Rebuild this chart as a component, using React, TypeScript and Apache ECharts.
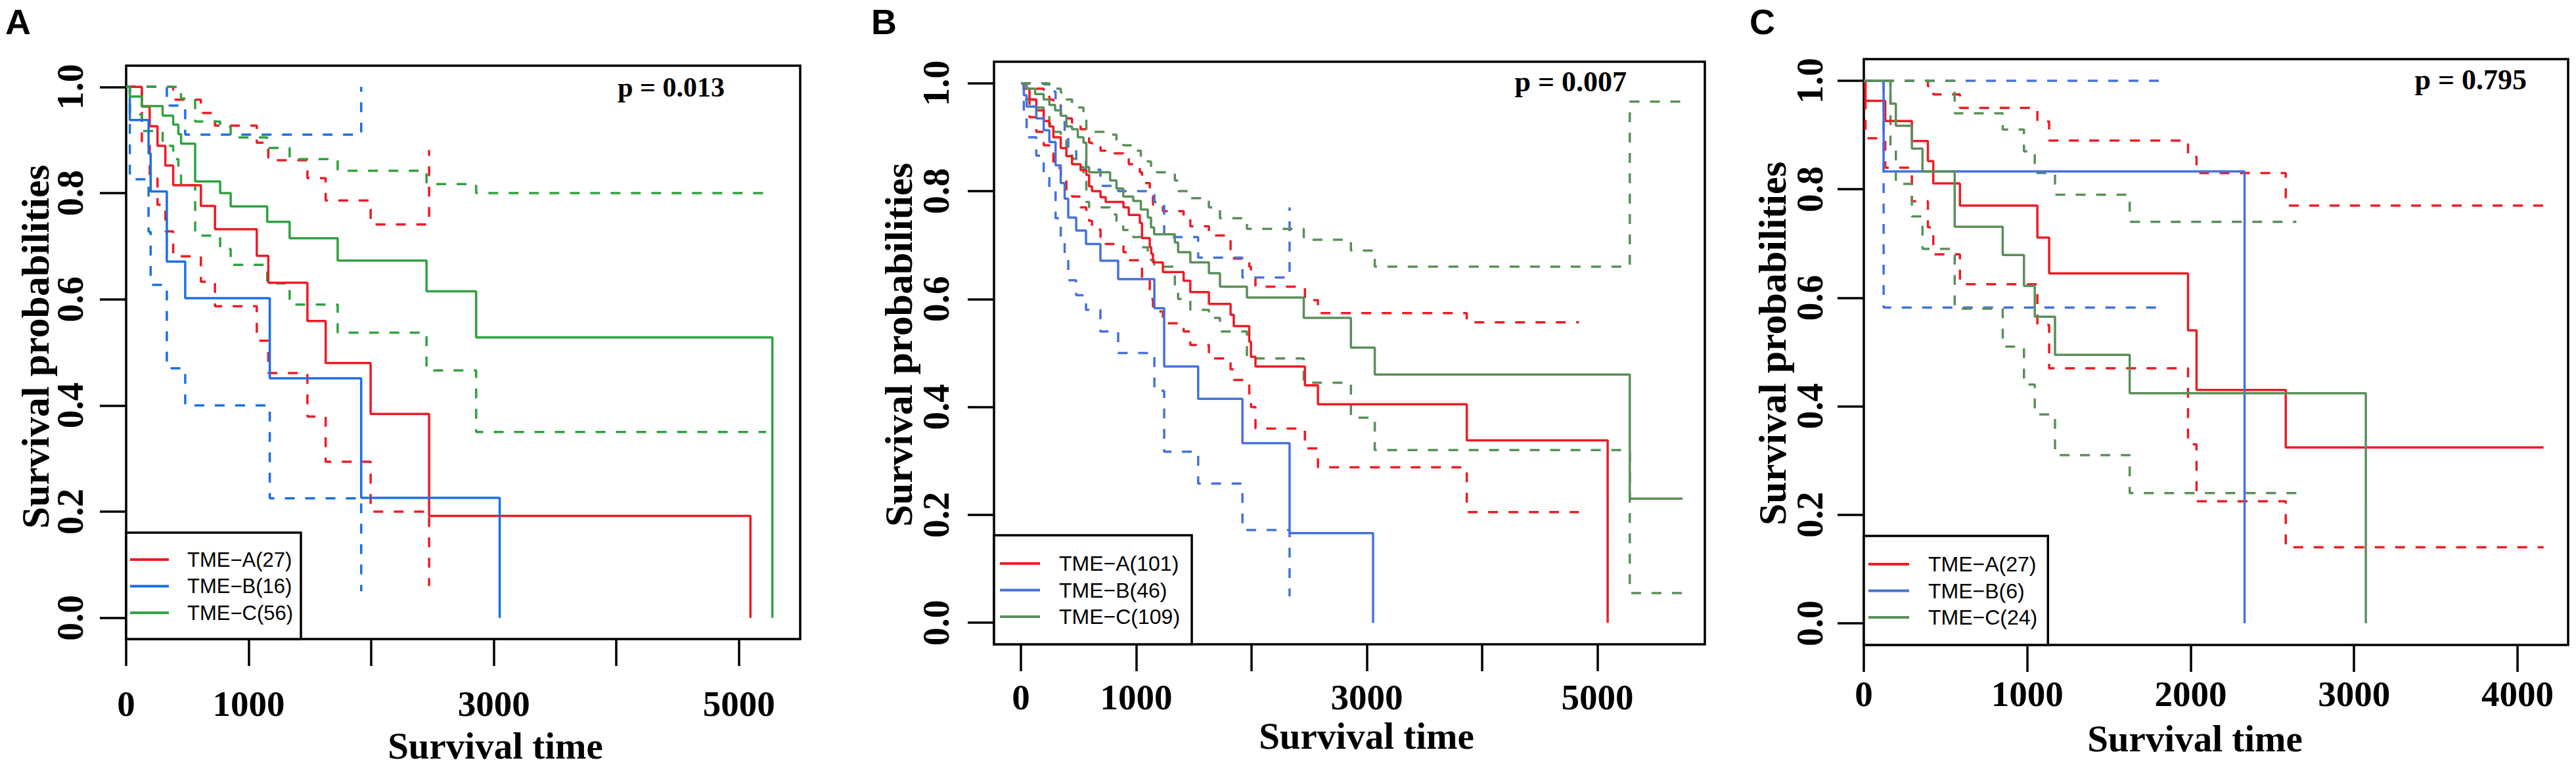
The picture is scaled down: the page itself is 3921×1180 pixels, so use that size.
import React, { useEffect, useRef } from "react";
import * as echarts from "echarts";

// ================= DATA =================
// Panel A
const A_names = ["TME\u2212A(27)", "TME\u2212B(16)", "TME\u2212C(56)"];
const A_p = "p = 0.013";
const aA_t = [0, 128, 192, 256, 320, 384, 610, 725, 1066, 1160, 1479, 1628, 1995, 2472, 5094];
const aA_s = [1, 0.963, 0.926, 0.889, 0.852, 0.815, 0.776, 0.732, 0.682, 0.631, 0.559, 0.48, 0.384, 0.192, 0];
const aA_ciT = [0, 128, 192, 256, 320, 384, 610, 725, 1066, 1160, 1479, 1628, 1995, 2472];
const aA_up = [1, 1, 1, 1, 1, 0.976, 0.951, 0.927, 0.895, 0.862, 0.828, 0.786, 0.741, 0.881];
const aA_lo = [1, 0.894, 0.832, 0.778, 0.728, 0.681, 0.633, 0.587, 0.522, 0.461, 0.379, 0.294, 0.2, 0.06];

const aB_t = [0, 30, 183, 200, 332, 482, 1172, 1918, 3048];
const aB_s = [1, 0.9375, 0.875, 0.803, 0.671, 0.602, 0.451, 0.226, 0];
const aB_ciT = [0, 30, 183, 200, 332, 482, 1172, 1918];
const aB_up = [1, 1, 1, 1, 0.965, 0.91, 0.91, 1];
const aB_lo = [1, 0.826, 0.727, 0.627, 0.47, 0.4, 0.225, 0.05];

const aC_t = [0, 30, 128, 298, 384, 426, 448, 563, 767, 853, 1151, 1334, 1726, 2451, 2856, 5273];
const aC_s = [1, 0.982, 0.964, 0.946, 0.929, 0.911, 0.893, 0.822, 0.8, 0.775, 0.746, 0.715, 0.673, 0.615, 0.528, 0];
const aC_ciT = [0, 30, 128, 298, 384, 426, 448, 563, 767, 853, 1151, 1334, 1726, 2451, 2856, 5222];
const aC_up = [1, 1, 1, 1, 1, 0.99, 0.978, 0.935, 0.925, 0.905, 0.885, 0.864, 0.842, 0.817, 0.8, 0.8];
const aC_lo = [1, 0.948, 0.917, 0.889, 0.864, 0.839, 0.815, 0.72, 0.695, 0.665, 0.63, 0.59, 0.537, 0.466, 0.35, 0.35];

// Panel B
const B_names = ["TME\u2212A(101)", "TME\u2212B(46)", "TME\u2212C(109)"];
const B_p = "p = 0.007";
const bA_t = [0, 25, 74, 133, 197, 246, 281, 345, 394, 443, 517, 567, 591, 616, 690, 735, 889, 935, 1031, 1050, 1117, 1130, 1145, 1231, 1411, 1469, 1630, 1818, 1846, 1980, 1995, 2034, 2463, 2576, 3867, 5089];
const bA_s = [1, 0.99, 0.97, 0.95, 0.93, 0.92, 0.9, 0.88, 0.865, 0.85, 0.839, 0.83, 0.809, 0.8, 0.789, 0.78, 0.77, 0.756, 0.741, 0.713, 0.696, 0.684, 0.668, 0.65, 0.634, 0.613, 0.591, 0.571, 0.55, 0.521, 0.493, 0.475, 0.44, 0.405, 0.338, 0];
const bA_ciT = [0, 25, 74, 133, 197, 246, 281, 345, 394, 443, 517, 567, 591, 616, 690, 735, 889, 935, 1031, 1050, 1117, 1130, 1145, 1231, 1411, 1469, 1630, 1818, 1846, 1980, 1995, 2034, 2463, 2576, 3867, 4840];
const bA_up = [1, 1, 1, 0.99, 0.98, 0.97, 0.96, 0.945, 0.935, 0.925, 0.915, 0.91, 0.89, 0.885, 0.875, 0.87, 0.86, 0.85, 0.835, 0.815, 0.8, 0.79, 0.775, 0.763, 0.75, 0.735, 0.718, 0.69, 0.675, 0.66, 0.646, 0.623, 0.598, 0.574, 0.557, 0.557];
const bA_lo = [1, 0.97, 0.937, 0.91, 0.885, 0.87, 0.843, 0.82, 0.8, 0.79, 0.77, 0.76, 0.745, 0.729, 0.715, 0.702, 0.687, 0.672, 0.66, 0.64, 0.611, 0.6, 0.577, 0.555, 0.54, 0.515, 0.49, 0.47, 0.45, 0.42, 0.4, 0.36, 0.323, 0.288, 0.205, 0.205];

const bB_t = [0, 25, 49, 133, 197, 246, 300, 345, 379, 410, 479, 564, 689, 843, 1157, 1242, 1537, 1921, 2330, 3054];
const bB_s = [1, 0.978, 0.957, 0.935, 0.913, 0.891, 0.848, 0.815, 0.786, 0.751, 0.727, 0.702, 0.671, 0.637, 0.583, 0.475, 0.415, 0.333, 0.166, 0];
const bB_ciT = [0, 25, 49, 133, 197, 246, 300, 345, 379, 410, 479, 564, 689, 843, 1157, 1242, 1537, 1921, 2330];
const bB_up = [1, 1, 1, 1, 0.998, 0.985, 0.958, 0.931, 0.906, 0.88, 0.86, 0.84, 0.81, 0.8, 0.78, 0.715, 0.677, 0.64, 0.77];
const bB_lo = [1, 0.936, 0.9, 0.866, 0.835, 0.805, 0.75, 0.714, 0.681, 0.635, 0.607, 0.58, 0.54, 0.5, 0.43, 0.317, 0.258, 0.172, 0.049];

const bC_t = [0, 49, 123, 197, 246, 296, 345, 394, 443, 493, 542, 567, 591, 773, 828, 887, 974, 1040, 1100, 1128, 1155, 1335, 1363, 1469, 1630, 1726, 1960, 2453, 2862, 3069, 5281, 5739];
const bC_s = [1, 0.99, 0.98, 0.97, 0.96, 0.95, 0.94, 0.92, 0.915, 0.9, 0.89, 0.845, 0.835, 0.82, 0.805, 0.79, 0.782, 0.766, 0.751, 0.733, 0.72, 0.705, 0.687, 0.668, 0.648, 0.623, 0.603, 0.565, 0.51, 0.46, 0.23, 0.23];
const bC_ciT = [0, 49, 123, 197, 246, 296, 345, 394, 443, 493, 542, 567, 591, 773, 828, 887, 974, 1040, 1100, 1128, 1155, 1335, 1363, 1469, 1630, 1726, 1960, 2453, 2862, 3069, 5281, 5739];
const bC_up = [1, 1, 1, 1, 0.997, 0.99, 0.983, 0.97, 0.962, 0.955, 0.945, 0.915, 0.91, 0.905, 0.895, 0.885, 0.875, 0.865, 0.855, 0.845, 0.835, 0.82, 0.8, 0.787, 0.77, 0.75, 0.73, 0.71, 0.69, 0.66, 0.966, 0.966];
const bC_lo = [1, 0.97, 0.955, 0.94, 0.925, 0.91, 0.895, 0.87, 0.86, 0.845, 0.83, 0.78, 0.77, 0.757, 0.742, 0.728, 0.715, 0.696, 0.685, 0.672, 0.66, 0.625, 0.6, 0.58, 0.565, 0.54, 0.49, 0.445, 0.38, 0.32, 0.055, 0.055];

// Panel C
const C_names = ["TME\u2212A(27)", "TME\u2212B(6)", "TME\u2212C(24)"];
const C_p = "p = 0.795";
const cA_t = [0, 10, 131, 294, 392, 425, 588, 1062, 1134, 1984, 2036, 2582, 4160];
const cA_s = [1, 0.963, 0.926, 0.889, 0.852, 0.811, 0.77, 0.711, 0.645, 0.54, 0.43, 0.324, 0.324];
const cA_ciT = [0, 10, 131, 294, 392, 425, 588, 1062, 1134, 1984, 2036, 2582, 4160];
const cA_up = [1, 1, 1, 1, 0.99, 0.975, 0.95, 0.925, 0.89, 0.86, 0.83, 0.77, 0.77];
const cA_lo = [1, 0.894, 0.84, 0.778, 0.73, 0.68, 0.625, 0.55, 0.47, 0.33, 0.225, 0.14, 0.14];

const cB_t = [0, 121, 2330];
const cB_s = [1, 0.833, 0];
const cB_ciT = [0, 121, 1846];
const cB_up = [1, 1, 1];
const cB_lo = [1, 0.582, 0.582];

const cC_t = [0, 163, 196, 294, 359, 556, 850, 980, 1046, 1170, 1627, 3072];
const cC_s = [1, 0.958, 0.917, 0.875, 0.833, 0.731, 0.679, 0.622, 0.565, 0.495, 0.424, 0];
const cC_ciT = [0, 163, 196, 294, 359, 556, 850, 980, 1046, 1170, 1627, 2647];
const cC_up = [1, 1, 1, 1, 1, 0.94, 0.91, 0.87, 0.83, 0.79, 0.74, 0.74];
const cC_lo = [1, 0.88, 0.81, 0.75, 0.69, 0.58, 0.51, 0.44, 0.385, 0.31, 0.24, 0.24];

// Axis ticks / labels
const yTicks = [0, 0.2, 0.4, 0.6, 0.8, 1.0];
const xTicksAB = [0, 1000, 2000, 3000, 4000, 5000];
const xLabelsAB = [0, 1000, 3000, 5000];
const xTicksC = [0, 1000, 2000, 3000, 4000];
const xLabelsC = [0, 1000, 2000, 3000, 4000];

// ================= STYLE / LAYOUT =================
const RED = "#EE1B24";
const BLUE_A = "#1C6FE3";
const GREEN_A = "#2FA23F";
const BLUE_BC = "#4472DC";
const GREEN_BC = "#5A8F5A";
const SERIF = "'Liberation Serif', 'Times New Roman', serif";
const SANS = "'Liberation Sans', Arial, sans-serif";

type Curve = { name: string; t: number[]; s: number[]; ciT: number[]; up: number[]; lo: number[]; color: string };

const panels = [
  {
    curves: [
      { name: A_names[0], t: aA_t, s: aA_s, ciT: aA_ciT, up: aA_up, lo: aA_lo, color: RED },
      { name: A_names[1], t: aB_t, s: aB_s, ciT: aB_ciT, up: aB_up, lo: aB_lo, color: BLUE_A },
      { name: A_names[2], t: aC_t, s: aC_s, ciT: aC_ciT, up: aC_up, lo: aC_lo, color: GREEN_A },
    ] as Curve[],
    names: A_names, p: A_p, letter: "A",
    grid: { left: 192, top: 100, width: 1026, height: 873 },
    xMin: 0, xMax: 5500, xTicks: xTicksAB, xLabels: xLabelsAB, xMargin: 71, yMargin: 57,
    letterPos: [8, 33], pPos: [1103, 133], pSize: 42,
    yTitlePos: [54, 528], xTitlePos: [754, 1135],
    legend: { top: 811, pad: [20.75, 12, 19.75, 6], itemWidth: 59, textPad: 23, fontSize: 31 },
  },
  {
    curves: [
      { name: B_names[0], t: bA_t, s: bA_s, ciT: bA_ciT, up: bA_up, lo: bA_lo, color: RED },
      { name: B_names[1], t: bB_t, s: bB_s, ciT: bB_ciT, up: bB_up, lo: bB_lo, color: BLUE_BC },
      { name: B_names[2], t: bC_t, s: bC_s, ciT: bC_ciT, up: bC_up, lo: bC_lo, color: GREEN_BC },
    ] as Curve[],
    names: B_names, p: B_p, letter: "B",
    grid: { left: 1513, top: 94, width: 1082, height: 887 },
    xMin: -234, xMax: 5932, xTicks: xTicksAB, xLabels: xLabelsAB, xMargin: 53, yMargin: 60,
    letterPos: [1326, 33], pPos: [2476, 124], pSize: 44,
    yTitlePos: [1368, 525], xTitlePos: [2080, 1120],
    legend: { top: 815, pad: [22.75, 18, 21.75, 9], itemWidth: 61, textPad: 24, fontSize: 32 },
  },
  {
    curves: [
      { name: C_names[0], t: cA_t, s: cA_s, ciT: cA_ciT, up: cA_up, lo: cA_lo, color: RED },
      { name: C_names[1], t: cB_t, s: cB_s, ciT: cB_ciT, up: cB_up, lo: cB_lo, color: BLUE_BC },
      { name: C_names[2], t: cC_t, s: cC_s, ciT: cC_ciT, up: cC_up, lo: cC_lo, color: GREEN_BC },
    ] as Curve[],
    names: C_names, p: C_p, letter: "C",
    grid: { left: 2837, top: 90, width: 1072, height: 892 },
    xMin: 0, xMax: 4310, xTicks: xTicksC, xLabels: xLabelsC, xMargin: 47, yMargin: 54,
    letterPos: [2663, 33], pPos: [3846, 121], pSize: 44,
    yTitlePos: [2698, 523], xTitlePos: [3341, 1124],
    legend: { top: 816, pad: [22.75, 16, 21.75, 7], itemWidth: 62, textPad: 24, fontSize: 32 },
  },
];

function buildOption() {
  const grid: any[] = [];
  const xAxis: any[] = [];
  const yAxis: any[] = [];
  const series: any[] = [];
  const legend: any[] = [];
  const graphic: any[] = [];

  panels.forEach((pn, pi) => {
    grid.push({ ...pn.grid, show: true, borderColor: "#000", borderWidth: 3.5, backgroundColor: "transparent", containLabel: false });
    xAxis.push({
      type: "value", gridIndex: pi, min: pn.xMin, max: pn.xMax,
      axisLine: { show: false, onZero: false },
      splitLine: { show: false },
      axisTick: { show: true, inside: false, length: 41, customValues: pn.xTicks, lineStyle: { color: "#000", width: 3.5 } },
      axisLabel: {
        show: true, customValues: pn.xLabels, margin: pn.xMargin, color: "#000",
        fontFamily: SERIF, fontWeight: "bold", fontSize: 55, formatter: (v: number) => String(v),
      },
    });
    yAxis.push({
      type: "value", gridIndex: pi, min: -0.04, max: 1.04,
      axisLine: { show: false, onZero: false },
      splitLine: { show: false },
      axisTick: { show: true, inside: false, length: 40, customValues: yTicks, lineStyle: { color: "#000", width: 3.5 } },
      axisLabel: {
        show: true, customValues: yTicks, rotate: 90, margin: pn.yMargin, color: "#000",
        fontFamily: SERIF, fontWeight: "bold", fontSize: 56, formatter: (v: number) => v.toFixed(1),
      },
    });

    pn.curves.forEach((c, ci) => {
      const base = { type: "line", xAxisIndex: pi, yAxisIndex: pi, step: "end", symbol: "none", silent: true, animation: false };
      series.push({
        ...base, name: c.name, z: 4 + ci,
        data: c.t.map((x, i) => [x, c.s[i]]),
        lineStyle: { color: c.color, width: 3.5, type: "solid" }, itemStyle: { color: c.color },
      });
      series.push({
        ...base, name: `${pn.letter} ${c.name} upper`, z: 3,
        data: c.ciT.map((x, i) => [x, c.up[i]]),
        lineStyle: { color: c.color, width: 3.5, type: [15, 16], cap: "butt" }, itemStyle: { color: c.color },
      });
      series.push({
        ...base, name: `${pn.letter} ${c.name} lower`, z: 3,
        data: c.ciT.map((x, i) => [x, c.lo[i]]),
        lineStyle: { color: c.color, width: 3.5, type: [15, 16], cap: "butt" }, itemStyle: { color: c.color },
      });
    });

    const lg = pn.legend;
    legend.push({
      data: pn.names.map((n, i) => ({ name: n, icon: "rect", itemStyle: { color: pn.curves[i].color } })),
      orient: "vertical", left: pn.grid.left, top: lg.top,
      padding: lg.pad, itemGap: 0, itemWidth: lg.itemWidth, itemHeight: 4,
      selectedMode: false,
      backgroundColor: "#fff", borderColor: "#000", borderWidth: 3.5, borderRadius: 0,
      textStyle: { fontFamily: SANS, fontSize: lg.fontSize, color: "#000", lineHeight: 40.5, padding: [0, 0, 0, lg.textPad] },
      z: 10,
    });

    const txt = (text: string, x: number, y: number, font: string, size: number, align: string, valign: string, rotation = 0) => ({
      type: "text", x, y, rotation, silent: true, z: 20,
      style: {
        text, fill: "#000", fontFamily: font, fontWeight: "bold", fontSize: size,
        align, verticalAlign: valign, textAlign: align, textVerticalAlign: valign,
      },
    });
    graphic.push(txt(pn.letter, pn.letterPos[0], pn.letterPos[1], SANS, 54, "left", "middle"));
    graphic.push(txt(pn.p, pn.pPos[0], pn.pPos[1], SERIF, pn.pSize, "right", "middle"));
    graphic.push(txt("Survival probabilities", pn.yTitlePos[0], pn.yTitlePos[1], SERIF, 60, "center", "middle", Math.PI / 2));
    graphic.push(txt("Survival time", pn.xTitlePos[0], pn.xTitlePos[1], SERIF, 57, "center", "middle"));
  });

  return {
    animation: false,
    backgroundColor: "#fff",
    grid, xAxis, yAxis, series, legend, graphic,
  };
}

export default function App() {
  const ref = useRef<HTMLDivElement>(null);
  useEffect(() => {
    document.body.style.margin = "0";
    document.body.style.overflow = "hidden";
    if (!ref.current) return;
    const chart = echarts.init(ref.current, undefined, { renderer: "svg" });
    chart.setOption(buildOption() as any);
    return () => chart.dispose();
  }, []);
  return <div ref={ref} style={{ width: 3921, height: 1180, background: "#fff" }} />;
}
